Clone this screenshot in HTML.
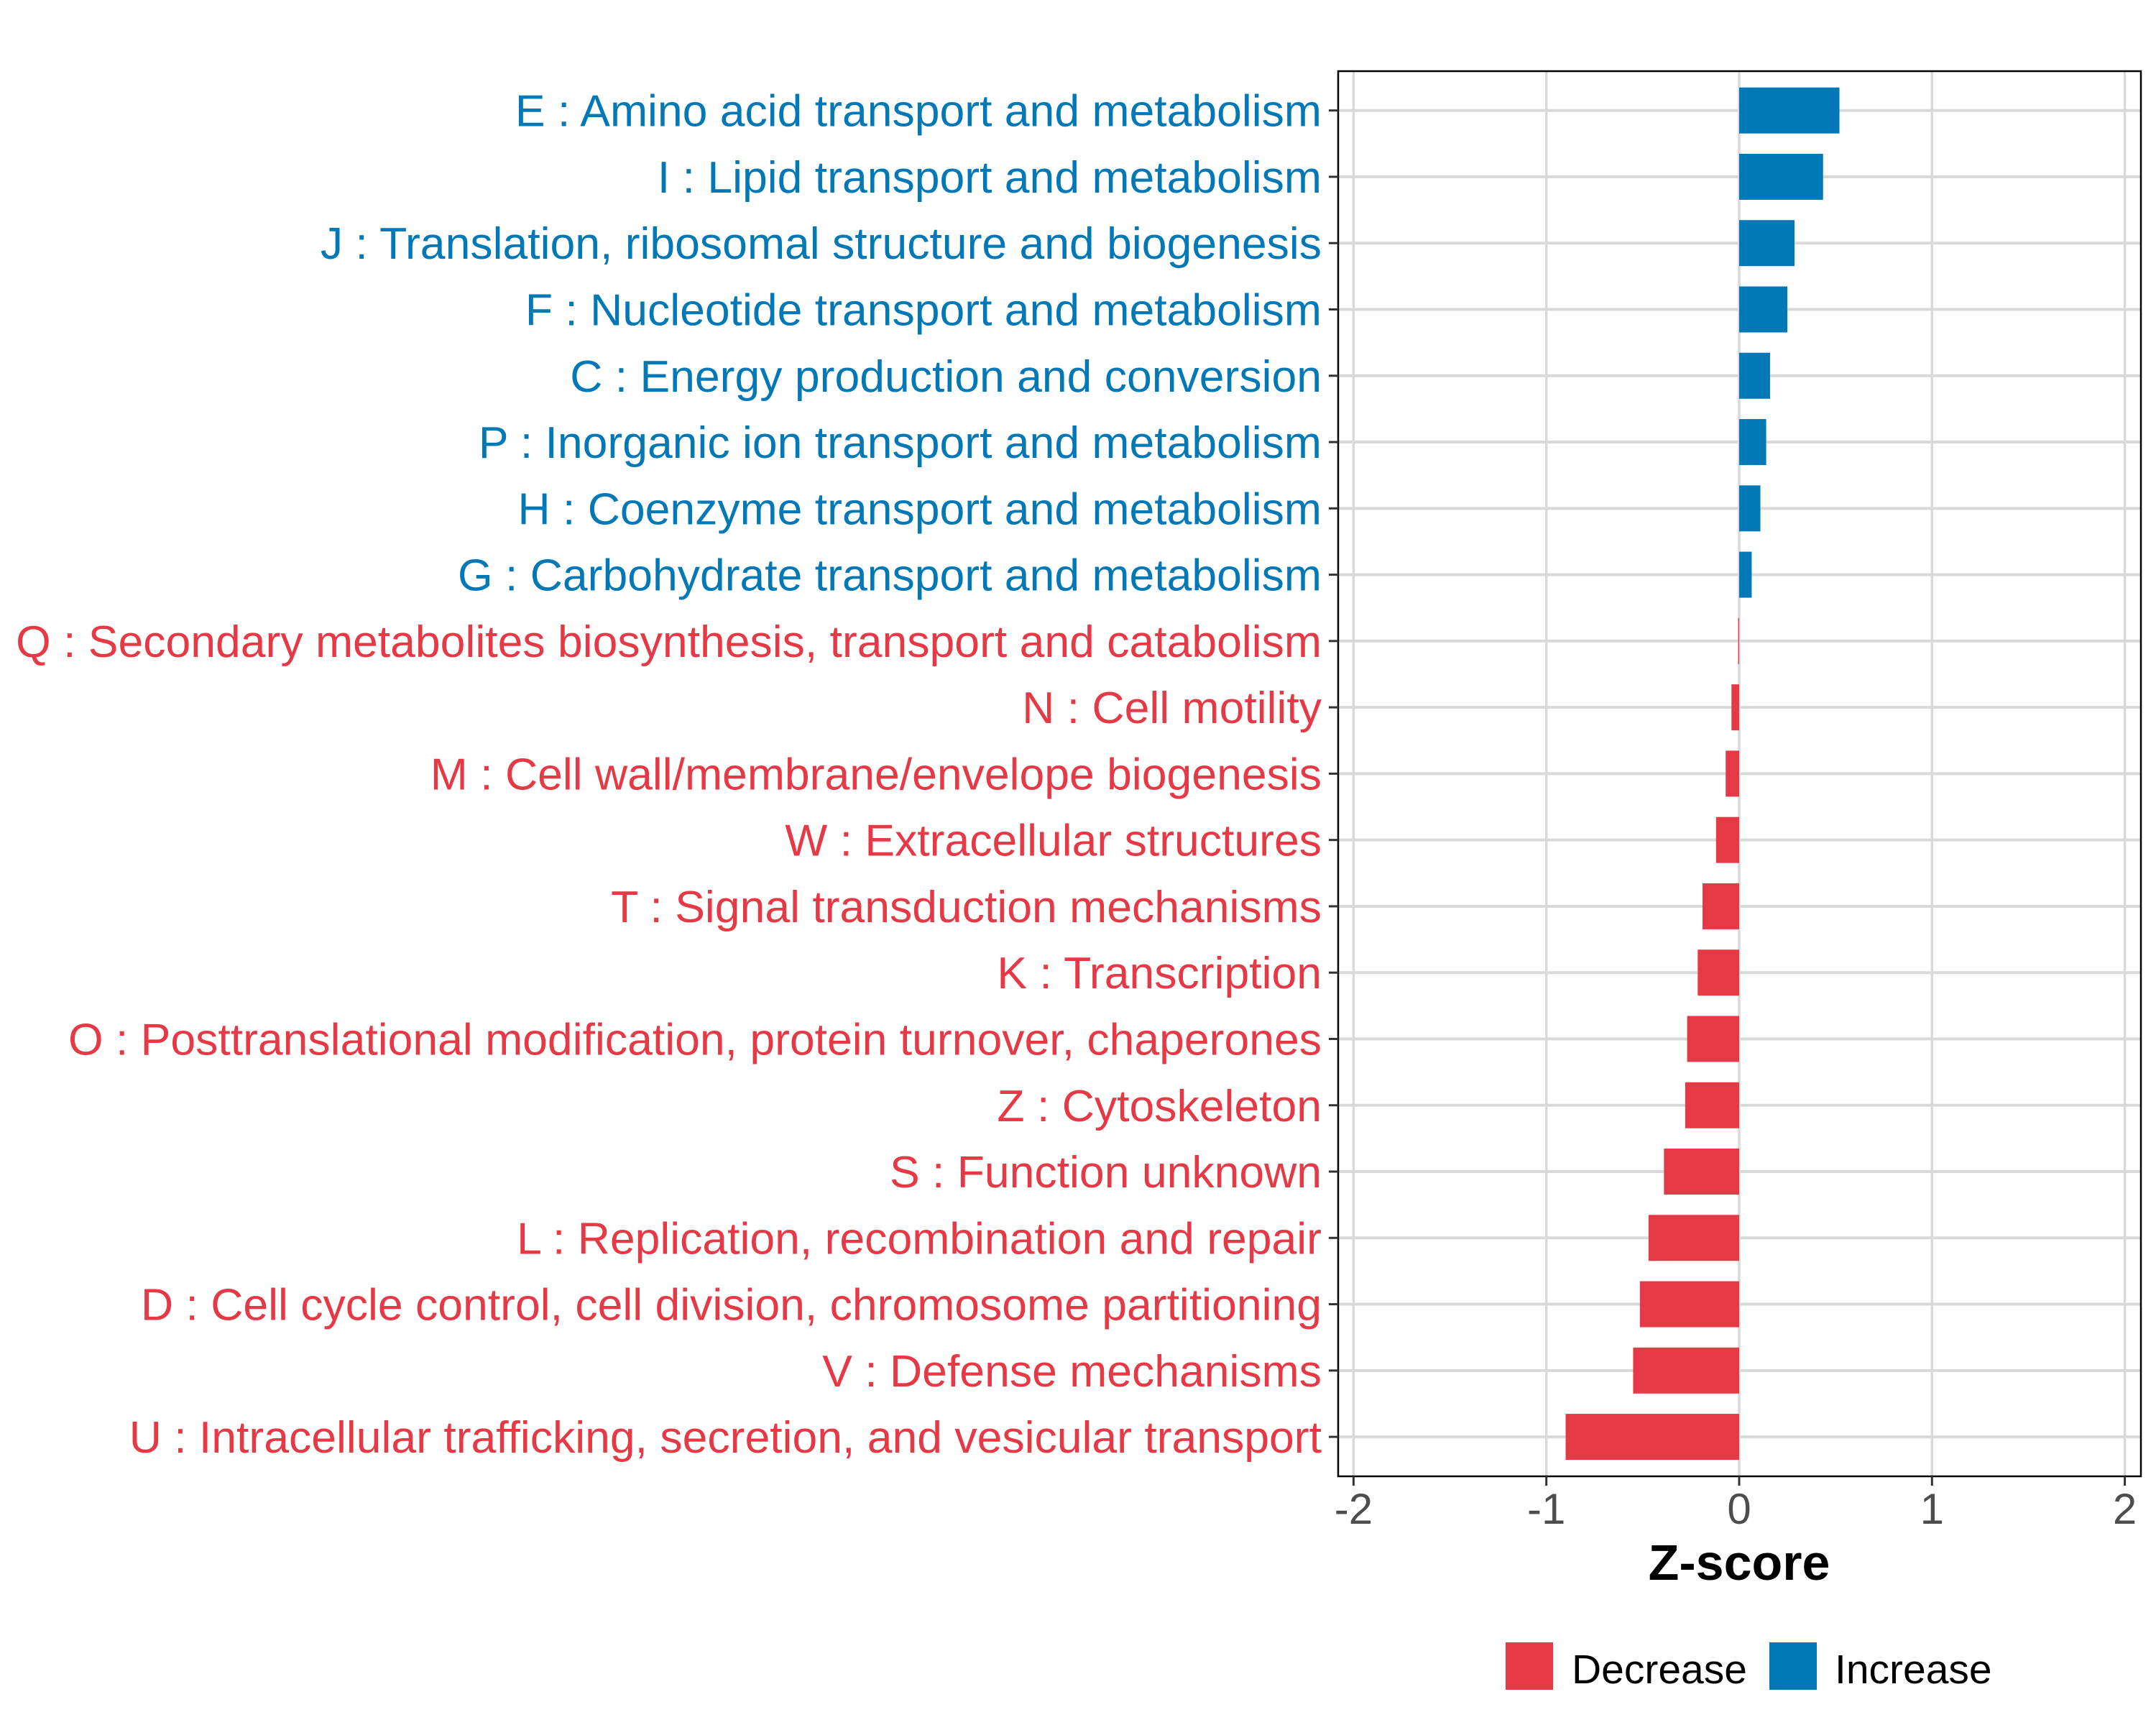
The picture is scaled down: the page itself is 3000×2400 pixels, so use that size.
<!DOCTYPE html>
<html><head><meta charset="utf-8"><style>
html,body{margin:0;padding:0;background:#fff;}
svg{display:block;font-family:"Liberation Sans",Arial,sans-serif;}
</style></head><body>
<svg id="chart" width="3000" height="2400" viewBox="0 0 3000 2400" xmlns="http://www.w3.org/2000/svg">
<rect x="0" y="0" width="3000" height="2400" fill="#fff"/>
<g id="grid"></g>
<g id="bars"></g>
<rect x="1862" y="99" width="1117" height="1955" fill="none" stroke="#000" stroke-width="2.5"/>
<g id="yaxis"></g>
<g id="xaxis"></g>
<text x="2420" y="2198" text-anchor="middle" font-size="70" font-weight="bold" fill="#000">Z-score</text>
<g>
<rect x="2095" y="2285" width="66" height="66" fill="#E63946"/>
<text x="2187" y="2342" font-size="57" fill="#000">Decrease</text>
<rect x="2462" y="2285" width="66" height="66" fill="#0378B7"/>
<text x="2553" y="2342" font-size="57" fill="#000">Increase</text>
</g>
</svg>
<script>
const categories = [
"E : Amino acid transport and metabolism",
"I : Lipid transport and metabolism",
"J : Translation, ribosomal structure and biogenesis",
"F : Nucleotide transport and metabolism",
"C : Energy production and conversion",
"P : Inorganic ion transport and metabolism",
"H : Coenzyme transport and metabolism",
"G : Carbohydrate transport and metabolism",
"Q : Secondary metabolites biosynthesis, transport and catabolism",
"N : Cell motility",
"M : Cell wall/membrane/envelope biogenesis",
"W : Extracellular structures",
"T : Signal transduction mechanisms",
"K : Transcription",
"O : Posttranslational modification, protein turnover, chaperones",
"Z : Cytoskeleton",
"S : Function unknown",
"L : Replication, recombination and repair",
"D : Cell cycle control, cell division, chromosome partitioning",
"V : Defense mechanisms",
"U : Intracellular trafficking, secretion, and vesicular transport"
];
const zscores = [0.52, 0.435, 0.287, 0.25, 0.16, 0.14, 0.11, 0.065, -0.005, -0.04, -0.07, -0.12, -0.19, -0.215, -0.27, -0.28, -0.39, -0.47, -0.515, -0.55, -0.9];
const xTicks = [-2, -1, 0, 1, 2];
const xTickLabels = ["-2", "-1", "0", "1", "2"];

const NS = "http://www.w3.org/2000/svg";
const RED = "#E63946", BLUE = "#0378B7";
function xScale(v){ return 2420 + v * 268.3; }
function yScale(i){ return 153.7 + i * 92.27; }
function mk(tag, attrs, parent){
  const e = document.createElementNS(NS, tag);
  for (const k in attrs) e.setAttribute(k, attrs[k]);
  parent.appendChild(e);
  return e;
}
const grid = document.getElementById('grid');
const bars = document.getElementById('bars');
const yaxis = document.getElementById('yaxis');
const xaxis = document.getElementById('xaxis');

xTicks.forEach((t, i) => {
  const x = xScale(t);
  const gl = mk('line', {x1:x, x2:x, y1:99, y2:2054, stroke:'#d9d9d9', 'stroke-width':3.5}, grid);
  
  
  const tk = mk('line', {x1:x, x2:x, y1:2054, y2:2067, stroke:'#333', 'stroke-width':3}, xaxis);
  
  
  const tl = mk('text', {x:x, y:2120, 'text-anchor':'middle', 'font-size':60, fill:'#4d4d4d'}, xaxis);
  tl.textContent = xTickLabels[i];
  
  
});

categories.forEach((c, i) => {
  const y = yScale(i);
  const v = zscores[i];
  const col = v >= 0 ? BLUE : RED;
  const gl = mk('line', {x1:1862, x2:2979, y1:y, y2:y, stroke:'#d9d9d9', 'stroke-width':4}, grid);
  
  
  const x0 = xScale(Math.min(0, v)), x1 = xScale(Math.max(0, v));
  const b = mk('rect', {x:x0, y:y - 32, width:Math.max(x1 - x0, 0.8), height:64, fill:col}, bars);
  
  
  const tk = mk('line', {x1:1849, x2:1862, y1:y, y2:y, stroke:'#333', 'stroke-width':3}, yaxis);
  
  
  const tl = mk('text', {x:1839, y:y + 22, 'text-anchor':'end', 'font-size':62.5, fill:col}, yaxis);
  tl.textContent = c;
  
  
});
</script>
</body></html>
